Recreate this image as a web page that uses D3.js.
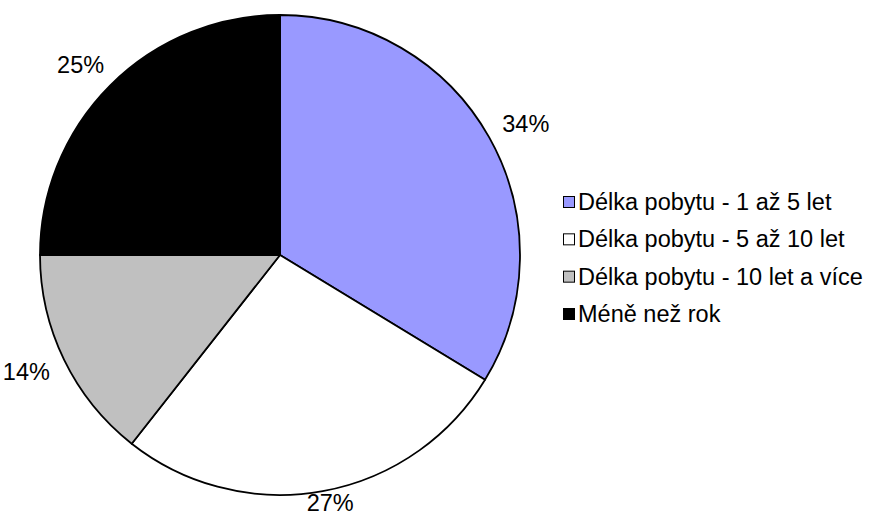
<!DOCTYPE html>
<html>
<head>
<meta charset="utf-8">
<script src="https://cdn.jsdelivr.net/npm/d3@7"></script>
<style>
html,body{margin:0;padding:0;background:#fff;}
svg{display:block;}
text{font-family:"Liberation Sans",Arial,sans-serif;fill:#000;}
</style>
</head>
<body>
<svg id="chart" width="869" height="515"></svg>
<script>
const categories = ["Délka pobytu - 1 až 5 let","Délka pobytu - 5 až 10 let","Délka pobytu - 10 let a více","Méně než rok"];
const values = [33.7, 26.9, 14.4, 25.0];
const labels = ["34%","27%","14%","25%"];
const colors = ["#9999FF","#FFFFFF","#C0C0C0","#000000"];

const W = 869, H = 515;
const cx = 280, cy = 255, R = 240;
const svg = d3.select("#chart");

const pie = d3.pie().sort(null).value(d => d)(values);
const arc = d3.arc().innerRadius(0).outerRadius(R);

const g = svg.append("g").attr("transform", `translate(${cx},${cy})`);
g.selectAll("path").data(pie).join("path")
  .attr("d", arc)
  .attr("fill", (d,i) => colors[i])
  .attr("stroke", "#000")
  .attr("stroke-width", 1.8)
  .attr("stroke-linejoin", "round");

// labels
const fs = 23.5;
const gap = 18;
const lw = 48, lh = 20;
pie.forEach((d,i) => {
  const a = (d.startAngle + d.endAngle) / 2;
  const dx = Math.sin(a), dy = -Math.cos(a);
  let x = cx + dx * (R + gap) + dx * lw / 2;
  let y = cy + dy * (R + gap) + dy * lh / 2;
  y = Math.max(lh/2 + 2, Math.min(H - lh/2 - 2, y));
  x = Math.max(lw/2 + 2, Math.min(W - lw/2 - 2, x));
  svg.append("text")
    .attr("x", x).attr("y", y)
    .attr("text-anchor", "middle")
    .attr("dominant-baseline", "central")
    .attr("font-size", fs)
    .text(labels[i]);
});

// legend
const ly = d3.scalePoint().domain(categories).range([202, 314]);
const leg = svg.append("g");
categories.forEach((c,i) => {
  const y = ly(c);
  leg.append("rect")
    .attr("x", 563.5).attr("y", y - 5.5)
    .attr("width", 11).attr("height", 11)
    .attr("fill", colors[i]).attr("stroke", "#000").attr("stroke-width", 1);
  leg.append("text")
    .attr("x", 578).attr("y", y)
    .attr("dominant-baseline", "central")
    .attr("font-size", fs)
    .text(c);
});
</script>
</body>
</html>
